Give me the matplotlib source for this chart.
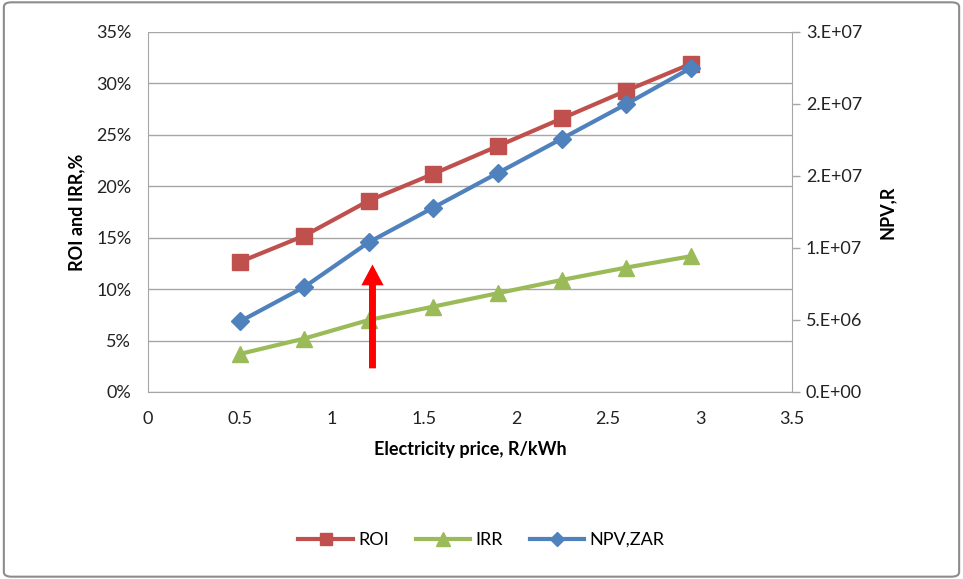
# roi_irr_npv.py
# ROI, IRR and NPV against electricity price, two y-axes

import matplotlib
matplotlib.use('Agg')
import matplotlib.pyplot as plt
from matplotlib.patches import FancyBboxPatch
from matplotlib.ticker import FixedLocator, FixedFormatter

plt.rcParams['font.family'] = ['Lato', 'DejaVu Sans']

price = [0.5, 0.85, 1.2, 1.55, 1.9, 2.25, 2.6, 2.95]
roi   = [12.65, 15.2, 18.6, 21.2, 23.9, 26.6, 29.3, 31.9]
irr   = [3.7, 5.2, 7.0, 8.3, 9.6, 10.9, 12.1, 13.2]
npv   = [4.9e6, 7.3e6, 10.4e6, 12.8e6, 15.2e6, 17.6e6, 20.0e6, 22.5e6]

pct_ticks  = [0, 5, 10, 15, 20, 25, 30, 35]
npv_ticks  = [0, 5e6, 10e6, 15e6, 20e6, 25e6]
npv_labels = ['0.E+00', '5.E+06', '1.E+07', '2.E+07', '2.E+07', '3.E+07']
x_ticks    = [0, 0.5, 1, 1.5, 2, 2.5, 3, 3.5]

RED   = '#C0504D'
GREEN = '#9BBB59'
BLUE  = '#4F81BD'
GRID  = '#A6A6A6'

fig = plt.figure(figsize=(9.63, 5.79), dpi=100)
fig.patch.set_facecolor('white')

# outer chart border
fig.patches.append(FancyBboxPatch((0.004, 0.004), 0.992, 0.992,
                                  boxstyle='round,pad=0,rounding_size=0.008',
                                  transform=fig.transFigure, fill=False,
                                  edgecolor='#8C8C8C', linewidth=1.5))

ax = fig.add_axes([148 / 963, 1 - 392 / 579, 644 / 963, 360 / 579])
ax2 = ax.twinx()

ax.plot(price, roi, '-s', color=RED, lw=3, ms=11, label='ROI', zorder=3)
ax.plot(price, irr, '-^', color=GREEN, lw=3, ms=12, label='IRR', zorder=3)
ax2.plot(price, npv, '-D', color=BLUE, lw=3, ms=9, label='NPV,ZAR', zorder=3)

ax.set_xlim(0, 3.5)
ax.set_ylim(0, 35)
ax2.set_ylim(0, 25e6)

ax.set_xticks(x_ticks)
ax.set_xticklabels([f'{v:g}' for v in x_ticks])
ax.set_yticks(pct_ticks)
ax.set_yticklabels([f'{v}%' for v in pct_ticks])
ax2.yaxis.set_major_locator(FixedLocator(npv_ticks))
ax2.yaxis.set_major_formatter(FixedFormatter(npv_labels))

ax.grid(axis='y', color=GRID, lw=1)
ax.set_axisbelow(True)

for a in (ax, ax2):
    for s in a.spines.values():
        s.set_visible(False)
ax.spines['left'].set_visible(True)
ax.spines['left'].set_color(GRID)
ax.spines['bottom'].set_visible(True)
ax.spines['bottom'].set_color(GRID)
ax2.spines['right'].set_visible(True)
ax2.spines['right'].set_color(GRID)

ax.tick_params(axis='x', length=0, pad=14, labelsize=13, colors='#222222')
ax.tick_params(axis='y', length=0, pad=12, labelsize=13, colors='#222222')
ax2.tick_params(axis='y', length=6, width=1, pad=4,
                labelsize=13, colors='#222222')
ax2.tick_params(axis='y', color=GRID)

ax.set_xlabel('Electricity price, R/kWh', fontsize=13, fontweight='bold',
              labelpad=10)
ax.set_ylabel('ROI and IRR,%', fontsize=13, fontweight='bold', labelpad=8)
ax2.set_ylabel('NPV,R', fontsize=13, fontweight='bold', labelpad=12)

# red arrow pointing up at the 1.2 R/kWh point
ax.annotate('', xy=(1.22, 12.4), xytext=(1.22, 2.3),
            arrowprops=dict(facecolor='red', edgecolor='none', width=5,
                            headwidth=16, headlength=15))

h1, l1 = ax.get_legend_handles_labels()
h2, l2 = ax2.get_legend_handles_labels()
fig.legend(h1 + h2, l1 + l2, loc='center', bbox_to_anchor=(0.5, 1 - 540 / 579),
           ncol=3, frameon=False, fontsize=13, handlelength=3,
           columnspacing=1.5, handletextpad=0.3, markerscale=0.8)

plt.savefig('out.png', dpi=100, facecolor='white')
plt.close()
